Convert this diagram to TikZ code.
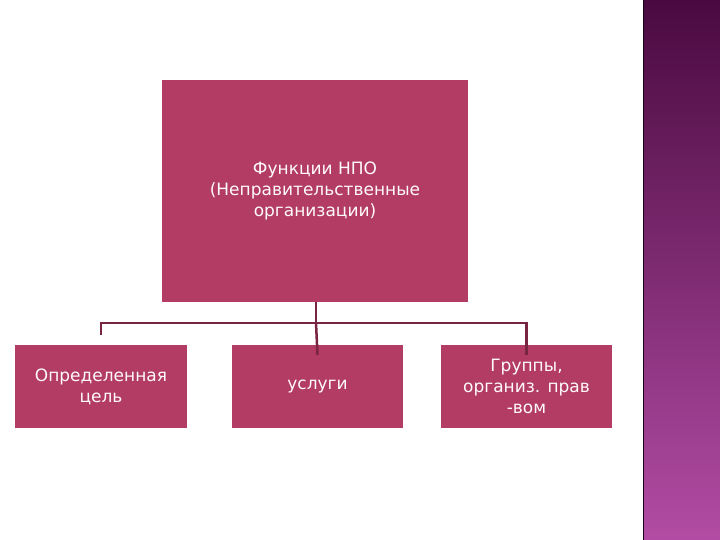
\documentclass[tikz,border=0pt]{standalone}
\usepackage{fontspec}
\setmainfont{DejaVu Sans}
\definecolor{boxc}{HTML}{B23C64}
\definecolor{linec}{HTML}{7A2444}
\definecolor{stript}{HTML}{4A0A40}
\definecolor{stripb}{HTML}{B24CA4}
\begin{document}
\begin{tikzpicture}[x=1pt,y=-1pt,
  box/.style={fill=boxc,draw=none,text=white!92!pink,align=center,inner sep=0pt,font=\fontsize{17}{21}\selectfont},
  conn/.style={draw=linec,line width=2.5pt}]
\useasboundingbox (0,0) rectangle (720,540);
\fill[white] (0,0) rectangle (720,540);
\shade[top color=stript,bottom color=stripb] (643,0) rectangle (720,540);
\draw[black!70!stript,line width=1.5pt] (643.5,0) -- (643.5,540);
\node[box,minimum width=306pt,minimum height=222pt] (top) at (315,191) {Функции НПО\\(Неправительственные\\организации)};
\node[box,minimum width=172pt,minimum height=83pt] (l) at (101,386.5) {Определенная\\цель};
\node[box,minimum width=171pt,minimum height=83pt] (m) at (317.5,386.5) {услуги};
\node[box,minimum width=171pt,minimum height=83pt] (r) at (526.5,386.5) {Группы,\\организ. прав\\-вом};
\coordinate (j) at (316,323);
\draw[conn] (top.south) ++(1,0) |- (j);
\draw[conn] (l.north) ++(0,-10) |- (j) -| ([yshift=-10pt]r.north);
\draw[conn] (j) -- ([yshift=-10pt]m.north);
\end{tikzpicture}
\end{document}
